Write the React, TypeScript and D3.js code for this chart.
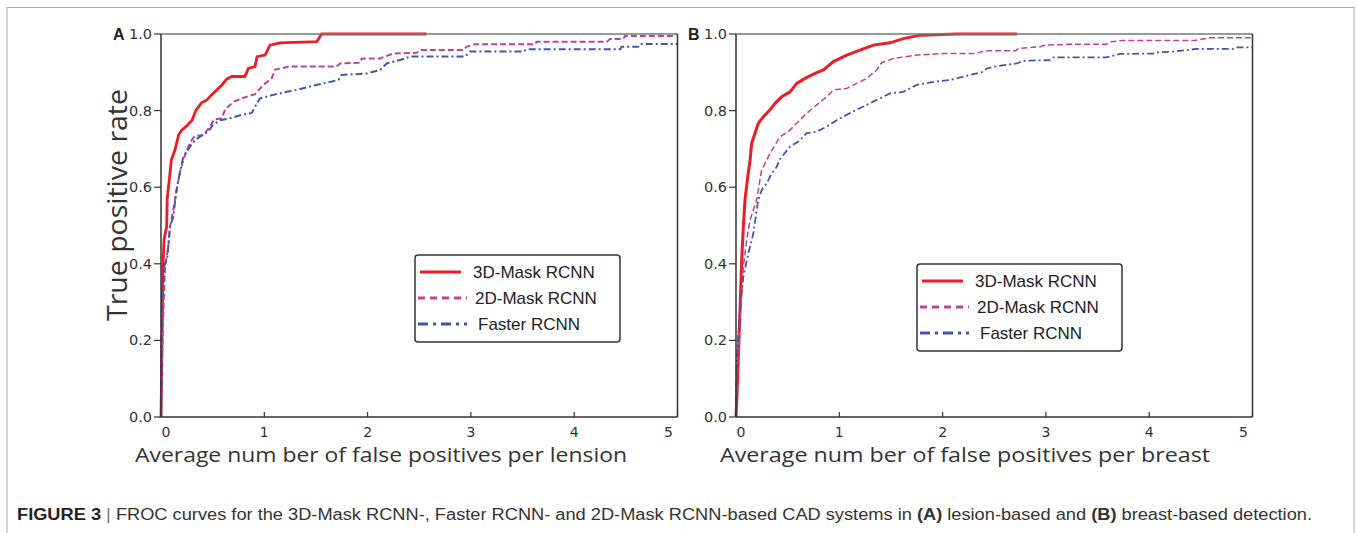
import * as d3 from 'd3';

// FROC curves, [false positives per lesion/breast, true positive rate]
const maskA3D: [number, number][] = [
  [0, 0], [0.005, 0.1], [0.01, 0.2], [0.015, 0.31], [0.02, 0.4], [0.03, 0.464], [0.055, 0.497],
  [0.06, 0.571], [0.08, 0.619], [0.09, 0.645], [0.1, 0.671], [0.135, 0.697], [0.17, 0.736],
  [0.2, 0.749], [0.25, 0.76], [0.3, 0.775], [0.34, 0.802], [0.395, 0.821], [0.445, 0.828],
  [0.49, 0.841], [0.54, 0.854], [0.59, 0.867], [0.635, 0.882], [0.685, 0.889], [0.813, 0.889],
  [0.845, 0.91], [0.91, 0.915], [0.93, 0.941], [1.007, 0.945], [1.055, 0.971], [1.152, 0.977],
  [1.507, 0.98], [1.555, 1.0], [2.57, 1.0],
];
const maskA2D: [number, number][] = [
  [0, 0], [0.01, 0.15], [0.02, 0.25], [0.03, 0.33], [0.039, 0.392], [0.071, 0.445], [0.087, 0.497],
  [0.119, 0.54], [0.152, 0.593], [0.184, 0.64], [0.216, 0.671], [0.249, 0.697], [0.297, 0.723],
  [0.329, 0.734], [0.41, 0.736], [0.474, 0.758], [0.513, 0.777], [0.588, 0.78], [0.62, 0.802],
  [0.7, 0.823], [0.813, 0.835], [0.91, 0.843], [0.991, 0.867], [1.071, 0.884], [1.104, 0.907],
  [1.249, 0.915], [1.7, 0.915], [1.733, 0.923], [1.926, 0.925], [1.943, 0.936], [2.12, 0.936],
  [2.246, 0.949], [2.475, 0.951], [2.507, 0.958], [2.926, 0.958], [2.959, 0.967], [3.039, 0.973],
  [3.62, 0.973], [3.637, 0.98], [4.315, 0.98], [4.347, 0.987], [4.475, 0.987], [4.491, 0.995],
  [4.96, 0.995], [4.99, 1.0],
];
const fasterA: [number, number][] = [
  [0, 0], [0.003, 0.115], [0.007, 0.28], [0.029, 0.392], [0.061, 0.418], [0.087, 0.497],
  [0.119, 0.523], [0.145, 0.584], [0.168, 0.619], [0.2, 0.66], [0.216, 0.68], [0.281, 0.706],
  [0.329, 0.723], [0.378, 0.732], [0.458, 0.745], [0.5, 0.762], [0.571, 0.775], [0.668, 0.78],
  [0.781, 0.789], [0.878, 0.794], [0.91, 0.81], [0.958, 0.832], [1.087, 0.841], [1.217, 0.849],
  [1.313, 0.854], [1.426, 0.862], [1.571, 0.871], [1.717, 0.88], [1.749, 0.893], [1.991, 0.897],
  [2.12, 0.906], [2.185, 0.923], [2.314, 0.932], [2.411, 0.941], [2.944, 0.941], [2.992, 0.954],
  [3.507, 0.954], [3.54, 0.96], [4.444, 0.96], [4.46, 0.967], [4.621, 0.967], [4.637, 0.974],
  [5.0, 0.974],
];

const maskB3D: [number, number][] = [
  [0, 0], [0.01, 0.06], [0.022, 0.15], [0.039, 0.28], [0.055, 0.41], [0.071, 0.497], [0.087, 0.567],
  [0.11, 0.619], [0.136, 0.671], [0.152, 0.715], [0.184, 0.741], [0.216, 0.767], [0.265, 0.784],
  [0.329, 0.802], [0.378, 0.819], [0.442, 0.836], [0.523, 0.849], [0.588, 0.871], [0.668, 0.884],
  [0.765, 0.897], [0.846, 0.906], [0.943, 0.928], [1.072, 0.945], [1.2, 0.958], [1.33, 0.971],
  [1.49, 0.977], [1.62, 0.988], [1.785, 0.997], [2.14, 1.0], [2.72, 1.0],
];
const maskB2D: [number, number][] = [
  [0, 0], [0.007, 0.105], [0.039, 0.253], [0.071, 0.392], [0.103, 0.462], [0.136, 0.514],
  [0.2, 0.567], [0.232, 0.619], [0.249, 0.645], [0.281, 0.662], [0.329, 0.688], [0.426, 0.732],
  [0.507, 0.745], [0.588, 0.767], [0.684, 0.793], [0.781, 0.815], [0.878, 0.836], [0.942, 0.854],
  [1.072, 0.858], [1.168, 0.871], [1.265, 0.884], [1.362, 0.906], [1.41, 0.925], [1.523, 0.936],
  [1.749, 0.945], [2.007, 0.949], [2.325, 0.949], [2.405, 0.956], [2.705, 0.956], [2.736, 0.962],
  [2.943, 0.967], [2.992, 0.971], [3.196, 0.973], [3.584, 0.973], [3.632, 0.98], [3.745, 0.983],
  [4.439, 0.983], [4.584, 0.99], [5.0, 0.99],
];
const fasterB: [number, number][] = [
  [0, 0], [0.0, 0.06], [0.007, 0.15], [0.039, 0.28], [0.071, 0.366], [0.119, 0.427], [0.168, 0.479],
  [0.2, 0.54], [0.216, 0.567], [0.249, 0.593], [0.297, 0.61], [0.345, 0.636], [0.394, 0.653],
  [0.42, 0.671], [0.458, 0.684], [0.523, 0.706], [0.604, 0.719], [0.684, 0.741], [0.781, 0.745],
  [0.878, 0.758], [0.974, 0.775], [1.072, 0.789], [1.168, 0.802], [1.265, 0.815], [1.362, 0.828],
  [1.491, 0.845], [1.62, 0.849], [1.749, 0.867], [1.91, 0.875], [2.072, 0.88], [2.265, 0.893],
  [2.39, 0.901], [2.427, 0.91], [2.523, 0.916], [2.717, 0.923], [2.781, 0.93], [3.04, 0.932],
  [3.072, 0.939], [3.587, 0.939], [3.717, 0.948], [4.04, 0.949], [4.072, 0.952], [4.233, 0.954],
  [4.459, 0.961], [4.816, 0.961], [4.849, 0.965], [5.0, 0.965],
];

const xTicks = [0, 1, 2, 3, 4, 5];
const yTicks = [0, 0.2, 0.4, 0.6, 0.8, 1.0];
const seriesNames = ['3D-Mask RCNN', '2D-Mask RCNN', 'Faster RCNN'];

const RED = '#ee1c25';
const MAGENTA = '#c2409c';
const BLUE = '#4456a8';

const styles = [
  { color: RED, dash: null as string | null },
  { color: MAGENTA, dash: '6,3' },
  { color: BLUE, dash: '7,3,2,3' },
];

interface PanelProps {
  left: number;
  letter: string;
  xLabel: string;
  xLabelX: number;
  xLabelW: number;
  series: [number, number][][];
  widths: number[];
  legendX: number;
  legendY: number;
  yLabel?: boolean;
}

function Panel({ left, letter, xLabel, xLabelX, xLabelW, series, widths, legendX, legendY, yLabel }: PanelProps) {
  const top = 34;
  const bottom = 417;
  const x = d3.scaleLinear().domain([0, 5]).range([left, left + 516.5]);
  const y = d3.scaleLinear().domain([0, 1]).range([bottom, top]);
  const line = d3
    .line<[number, number]>()
    .x(d => x(d[0]))
    .y(d => y(d[1]));
  const right = x(5);
  const axisColor = '#333';

  return (
    <g>
      <text x={left - 48} y={top + 6} fontFamily="Liberation Sans, Arial" fontWeight="bold" fontSize={16} fill="#222">
        {letter}
      </text>

      {/* curves */}
      {series.map((s, i) => (
        <path
          key={i}
          d={line(s) || ''}
          fill="none"
          stroke={styles[i].color}
          strokeWidth={widths[i]}
          strokeDasharray={styles[i].dash || undefined}
        />
      ))}

      {/* frame */}
      <line x1={left} y1={top} x2={right} y2={top} stroke="#777" strokeWidth={1.5} />
      <line x1={right} y1={top} x2={right} y2={bottom} stroke={axisColor} strokeWidth={1.5} />
      <line x1={left} y1={top} x2={left} y2={bottom} stroke={axisColor} strokeWidth={1.5} />
      <line x1={left} y1={bottom} x2={right} y2={bottom} stroke={axisColor} strokeWidth={1.5} />

      {/* y ticks */}
      {yTicks.map(t => (
        <g key={t}>
          <line x1={left - 7} x2={left} y1={y(t)} y2={y(t)} stroke={axisColor} strokeWidth={1.2} />
          <text
            x={left - 9}
            y={y(t)}
            textAnchor="end"
            dominantBaseline="central"
            fontFamily="DejaVu Sans, Verdana"
            fontSize={14.5}
            fill="#333"
          >
            {t.toFixed(1)}
          </text>
        </g>
      ))}

      {/* x ticks */}
      {xTicks.map((t, i) => {
        const shift = i === 0 ? 5 : i === xTicks.length - 1 ? -9 : 0;
        return (
          <g key={t}>
            <line x1={x(t)} x2={x(t)} y1={bottom} y2={bottom - 5} stroke={axisColor} strokeWidth={1.2} />
            <text
              x={x(t) + shift}
              y={bottom + 20}
              textAnchor="middle"
              fontFamily="DejaVu Sans, Verdana"
              fontSize={14}
              fill="#333"
            >
              {t}
            </text>
          </g>
        );
      })}

      <text
        x={xLabelX}
        y={462}
        fontFamily="Open Sans, DejaVu Sans"
        fontSize={20}
        fill="#333"
        textLength={xLabelW}
        lengthAdjust="spacingAndGlyphs"
      >
        {xLabel}
      </text>

      {yLabel && (
        <text
          transform={`translate(${left - 34},${205}) rotate(-90)`}
          textAnchor="middle"
          fontFamily="Open Sans, DejaVu Sans"
          fontSize={28}
          fill="#333"
          textLength={232}
          lengthAdjust="spacingAndGlyphs"
        >
          True positive rate
        </text>
      )}

      {/* legend */}
      <g transform={`translate(${legendX},${legendY})`}>
        <rect x={0} y={0} width={205} height={87} rx={3} fill="white" stroke="#333" strokeWidth={1.5} />
        {seriesNames.map((name, i) => (
          <g key={name} transform={`translate(0,${17 + i * 26})`}>
            <line
              x1={i === 0 ? 5 : 3}
              x2={i === 0 ? 46 : 52}
              y1={0}
              y2={0}
              stroke={styles[i].color}
              strokeWidth={3}
              strokeDasharray={i === 1 ? '7,5' : i === 2 ? '10,5,3,5' : undefined}
            />
            <text
              x={i === 0 ? 58 : i === 1 ? 60 : 63}
              y={0}
              dominantBaseline="central"
              fontFamily="Liberation Sans, Arial"
              fontSize={17}
              fill="#222"
            >
              {name}
            </text>
          </g>
        ))}
      </g>
    </g>
  );
}

export default function App() {
  return (
    <div style={{ position: 'absolute', left: 0, top: 0 }}>
      <svg width={1357} height={533} style={{ display: 'block', background: 'white' }}>
        <rect x={7} y={7.5} width={1347} height={560} fill="white" stroke="#aaa" strokeWidth={1} />
        <Panel
          left={161}
          letter="A"
          xLabel="Average num ber of false positives per lension"
          xLabelX={135}
          xLabelW={492}
          series={[maskA3D, maskA2D, fasterA]}
          widths={[2.8, 2, 2]}
          legendX={415}
          legendY={255}
          yLabel
        />
        <Panel
          left={736}
          letter="B"
          xLabel="Average num ber of false positives per breast"
          xLabelX={720}
          xLabelW={490}
          series={[maskB3D, maskB2D, fasterB]}
          widths={[3, 1.5, 1.8]}
          legendX={917}
          legendY={264}
        />
        <text
          x={17}
          y={520}
          fontFamily="Liberation Sans, Arial"
          fontSize={16}
          fill="#333"
          textLength={1295}
          lengthAdjust="spacingAndGlyphs"
        >
          <tspan fontWeight="bold" fill="#222">FIGURE 3</tspan>
          <tspan fill="#777"> | </tspan>
          <tspan>FROC curves for the 3D-Mask RCNN-, Faster RCNN- and 2D-Mask RCNN-based CAD systems in </tspan>
          <tspan fontWeight="bold">(A)</tspan>
          <tspan> lesion-based and </tspan>
          <tspan fontWeight="bold">(B)</tspan>
          <tspan> breast-based detection.</tspan>
        </text>
      </svg>
    </div>
  );
}
